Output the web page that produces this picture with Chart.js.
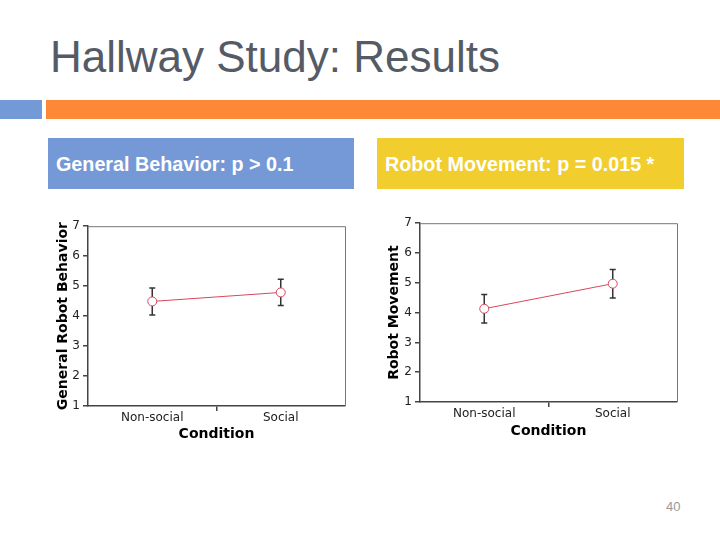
<!DOCTYPE html>
<html>
<head>
<meta charset="utf-8">
<script src="https://cdn.jsdelivr.net/npm/chart.js@4.4.0/dist/chart.umd.min.js"></script>
<style>
	body { margin: 0; background: #fff; }
	#slide { position: relative; width: 720px; height: 540px; overflow: hidden; font-family: 'Liberation Sans', Arial, sans-serif; }
	.abs { position: absolute; }
	#title { left: 50px; top: 32px; font-size: 44px; color: #555b66; white-space: nowrap; line-height: 50px; }
	.box { height: 51px; top: 138px; }
	.boxtext { position: absolute; left: 8px; top: 14px; color: #fff; font-weight: bold; font-size: 21px; white-space: nowrap; transform: scaleX(0.94); transform-origin: left; line-height: 24px; }
	#pagenum { left: 666px; top: 499px; font-size: 13px; color: #999; }
</style>
</head>
<body>
<div id="slide">
	<div id="title" class="abs">Hallway Study: Results</div>
	<div class="abs" style="left:0;top:100px;width:42px;height:19px;background:#7399d6"></div>
	<div class="abs" style="left:46px;top:100px;width:674px;height:19px;background:#fd8836"></div>

	<div class="abs box" style="left:48px;width:306px;background:#7599d6">
		<div class="boxtext">General Behavior: p &gt; 0.1</div>
	</div>
	<div class="abs box" style="left:377px;width:307px;background:#f2cd2e">
		<div class="boxtext">Robot Movement: p = 0.015 *</div>
	</div>

	<div class="abs" style="left:51px;top:216px"><canvas id="chartBehavior" width="305" height="236"></canvas></div>
	<div class="abs" style="left:382px;top:213px"><canvas id="chartMovement" width="306" height="236"></canvas></div>

	<div id="pagenum" class="abs">40</div>
</div>
<script>
// data
const conditions = ['Non-social', 'Social'];
const behaviorMeans = [4.49, 4.79];
const behaviorErrors = [0.45, 0.44];
const movementMeans = [4.13, 4.97];
const movementErrors = [0.48, 0.48];
const yMin = 1;
const yMax = 7;

const lineColor = '#d8475c';
const axisColor = '#444';

// error bars drawn with the chart's own scales
const errorBarPlugin = {
	id: 'errorBars',
	beforeDatasetsDraw(chart, args, opts) {
		const ctx = chart.ctx;
		const xs = chart.scales.x;
		const ys = chart.scales.y;
		const means = chart.data.datasets[0].data;
		ctx.save();
		ctx.strokeStyle = '#333';
		ctx.lineWidth = 1.5;
		means.forEach(function (m, i) {
			const x = xs.getPixelForValue(i);
			const top = ys.getPixelForValue(m + opts.errors[i]);
			const bot = ys.getPixelForValue(m - opts.errors[i]);
			ctx.beginPath();
			ctx.moveTo(x, top);
			ctx.lineTo(x, bot);
			ctx.moveTo(x - 3, top);
			ctx.lineTo(x + 3, top);
			ctx.moveTo(x - 3, bot);
			ctx.lineTo(x + 3, bot);
			ctx.stroke();
		});
		ctx.restore();
	},
};

// top and right edge of the plot box
const framePlugin = {
	id: 'frame',
	beforeDatasetsDraw(chart) {
		const { ctx, chartArea } = chart;
		ctx.save();
		ctx.strokeStyle = '#777';
		ctx.lineWidth = 1;
		ctx.beginPath();
		ctx.moveTo(chartArea.left, chartArea.top + 0.5);
		ctx.lineTo(chartArea.right + 0.5, chartArea.top + 0.5);
		ctx.lineTo(chartArea.right + 0.5, chartArea.bottom);
		ctx.stroke();
		ctx.restore();
	},
};

const tickFont = { family: 'DejaVu Sans', size: 12 };
const titleFont = { family: 'DejaVu Sans', size: 14, weight: 'bold' };

const createChart = function (id, yLabel, means, errors, yWidth, xHeight) {
	const config = {
		type: 'line',
		data: {
			labels: conditions,
			datasets: [
				{
					data: means,
					borderColor: lineColor,
					borderWidth: 1,
					pointRadius: 4.5,
					pointBorderWidth: 1,
					pointBorderColor: lineColor,
					pointBackgroundColor: '#fff',
					fill: false,
				},
			],
		},
		options: {
			responsive: false,
			animation: false,
			layout: { padding: { top: 10, right: 11, bottom: 7, left: 0 } },
			plugins: {
				legend: { display: false },
				tooltip: { enabled: false },
				errorBars: { errors: errors },
			},
			scales: {
				x: {
					type: 'category',
					offset: true,
					grid: {
						offset: true,
						drawOnChartArea: false,
						tickLength: 5,
						lineWidth: 1.5,
						color: function (c) {
							return c.index === 1 ? axisColor : 'rgba(0,0,0,0)';
						},
					},
					border: { color: axisColor, width: 1.5 },
					ticks: { font: tickFont, color: '#222', padding: 0 },
					title: { display: true, text: 'Condition', font: titleFont, color: '#000', padding: { top: 4, bottom: 2 } },
					afterFit: function (scale) {
						scale.height = xHeight;
					},
				},
				y: {
					min: yMin,
					max: yMax,
					grid: { drawOnChartArea: false, tickLength: 5, color: axisColor, lineWidth: 1.5 },
					border: { color: axisColor, width: 1.5 },
					ticks: { stepSize: 1, font: tickFont, color: '#222', padding: 3 },
					title: { display: true, text: yLabel, font: titleFont, color: '#000', padding: { top: 4, bottom: 4 } },
					afterFit: function (scale) {
						scale.width = yWidth;
					},
				},
			},
		},
		plugins: [errorBarPlugin, framePlugin],
	};
	return new Chart(document.getElementById(id), config);
};

const init = function () {
	createChart('chartBehavior', 'General Robot Behavior', behaviorMeans, behaviorErrors, 37, 39);
	createChart('chartMovement', 'Robot Movement', movementMeans, movementErrors, 38, 40);
};
document.addEventListener('DOMContentLoaded', init);
</script>
</body>
</html>
